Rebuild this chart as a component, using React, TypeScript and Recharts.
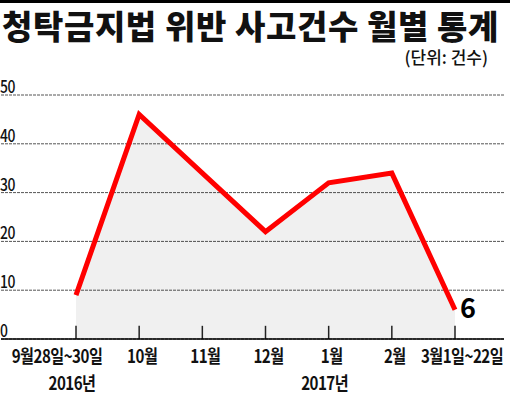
import { Area, AreaChart, CartesianGrid, LabelList, ReferenceLine, XAxis, YAxis } from "recharts"

// 청탁금지법 위반 사고건수 (건수)
const months = ["9월28일~30일", "10월", "11월", "12월", "1월", "2월", "3월1일~22일"]
const years = ["2016년", "", "", "", "2017년", "", ""]
const counts = [9, 46, 34, 22, 32, 34, 6]
const yTicks = [0, 10, 20, 30, 40, 50]

const FONT = "'Noto Sans CJK KR', 'Noto Sans', sans-serif"
const TICK_H = 2.7 // upward tick mark height, in count units (~13px)

const data = months.map((m, i) => ({ month: m, count: counts[i] }))

function MonthTick({ x, y, payload }: any) {
  const i = months.indexOf(payload.value)
  const year = years[i]
  // first/last labels are nudged to stay inside the frame
  const shift = i === 0 ? -19 : i === months.length - 1 ? 7 : 3
  return (
    <g>
      <text
        transform={`translate(${x + shift},${y + 24}) scale(0.84,1)`}
        textAnchor="middle"
        fontFamily={FONT}
        fontWeight={700}
        fontSize={18}
        letterSpacing={-0.6}
        fill="#111"
      >
        {payload.value}
      </text>
      {year ? (
        <text
          transform={`translate(${x - 4},${y + 51}) scale(0.84,1)`}
          textAnchor="middle"
          fontFamily={FONT}
          fontWeight={700}
          fontSize={18}
          letterSpacing={-0.6}
          fill="#111"
        >
          {year}
        </text>
      ) : null}
    </g>
  )
}

function CountTick({ y, payload }: any) {
  return (
    <text
      transform={`translate(0,${y - 2}) scale(0.82,1)`}
      fontFamily={FONT}
      fontWeight={500}
      fontSize={17}
      letterSpacing={-0.5}
      fill="#111"
      textAnchor="start"
    >
      {payload.value}
    </text>
  )
}

function LastLabel({ x, y, value, index }: any) {
  if (index !== counts.length - 1) return null
  return (
    <text x={x + 5} y={y + 8} fontFamily={FONT} fontWeight={700} fontSize={27} fill="#000">
      {value}
    </text>
  )
}

export default function App() {
  return (
    <div
      style={{
        position: "absolute",
        left: 0,
        top: 0,
        width: 510,
        height: 395,
        background: "#fff",
        overflow: "hidden",
      }}
    >
      <div style={{ position: "absolute", left: 0, top: 0, width: 510, height: 3, background: "#000" }} />
      <div
        style={{
          position: "absolute",
          left: 2,
          top: 9,
          fontFamily: FONT,
          fontWeight: 900,
          fontSize: 33,
          lineHeight: "33px",
          letterSpacing: 0.6,
          color: "#111",
          whiteSpace: "nowrap",
        }}
      >
        청탁금지법 위반 사고건수 월별 통계
      </div>
      <div
        style={{
          position: "absolute",
          right: 22,
          top: 47,
          fontFamily: FONT,
          fontWeight: 500,
          fontSize: 17,
          lineHeight: "19px",
          color: "#111",
          whiteSpace: "nowrap",
        }}
      >
        (단위: 건수)
      </div>
      <div style={{ position: "absolute", left: 0, top: 0 }}>
        <AreaChart width={510} height={395} data={data} margin={{ top: 95, right: 6, bottom: 0, left: 0 }}>
          <CartesianGrid vertical={false} stroke="#555" strokeDasharray="3 1" />
          <YAxis
            type="number"
            domain={[0, 50]}
            ticks={yTicks}
            width={1}
            axisLine={false}
            tickLine={false}
            tick={<CountTick />}
            interval={0}
          />
          <Area
            type="linear"
            dataKey="count"
            stroke="#ff0000"
            strokeWidth={5}
            fill="#000"
            fillOpacity={0.06}
            dot={false}
            activeDot={false}
            isAnimationActive={false}
          >
            <LabelList dataKey="count" content={<LastLabel />} />
          </Area>
          {months.map((m) => (
            <ReferenceLine
              key={m}
              segment={[
                { x: m, y: 0 },
                { x: m, y: TICK_H },
              ]}
              stroke="#222"
              strokeWidth={1.5}
              ifOverflow="visible"
            />
          ))}
          <XAxis
            dataKey="month"
            height={56}
            padding={{ left: 75, right: 49 }}
            axisLine={{ stroke: "#000", strokeWidth: 1.5 }}
            tickLine={false}
            tickSize={0}
            tickMargin={0}
            interval={0}
            tick={<MonthTick />}
          />
        </AreaChart>
      </div>
    </div>
  )
}
